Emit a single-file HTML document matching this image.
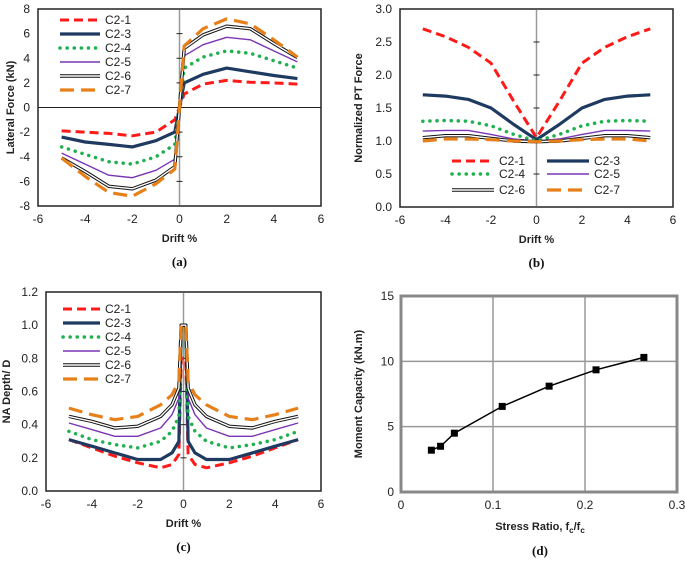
<!DOCTYPE html>
<html><head><meta charset="utf-8"><style>
body{margin:0;background:#fff;}
svg{display:block;font-family:"Liberation Sans",sans-serif;}
.tk{font-size:12px;fill:#222;}
.ttl{font-size:11px;font-weight:bold;fill:#222;}
.pl{font-family:"Liberation Serif",serif;font-size:13px;font-weight:bold;fill:#111;}
.lg{font-size:12px;fill:#222;}
</style></head><body>
<svg id="fig" width="685" height="564" viewBox="0 0 685 564"></svg>
<script>
const series = ["C2-1","C2-3","C2-4","C2-5","C2-6","C2-7"];
// Panel (a) lateral force
const xA = [-5,-4,-3,-2,-1,-0.2,0,0.2,1,2,3,4,5];
const a1 = [-1.9,-2.0,-2.1,-2.3,-2.0,-1.0,0,1.1,1.9,2.2,2.05,2.0,1.9];
const a3 = [-2.4,-2.8,-3.0,-3.2,-2.7,-2.0,0,2.0,2.7,3.2,2.9,2.6,2.35];
const a4 = [-3.2,-3.8,-4.4,-4.6,-4.0,-3.0,0,3.2,4.1,4.6,4.4,3.8,3.2];
const a5 = [-3.7,-4.6,-5.5,-5.7,-5.1,-4.2,0,4.2,5.1,5.7,5.5,4.6,3.7];
const a6 = [-4.1,-5.2,-6.4,-6.6,-5.9,-4.8,0,4.8,5.9,6.6,6.4,5.2,4.05];
const a7 = [-4.1,-5.6,-6.9,-7.2,-6.2,-5.0,0,5.0,6.4,7.2,6.8,5.5,4.1];
// Panel (b) normalized PT force
const xB = [-5,-4,-3,-2,-1,0,1,2,3,4,5];
const b1 = [2.7,2.58,2.42,2.18,1.6,1.05,1.6,2.18,2.42,2.58,2.7];
const b3 = [1.7,1.68,1.63,1.5,1.25,1.02,1.25,1.5,1.63,1.68,1.7];
const b4 = [1.3,1.31,1.3,1.23,1.1,1.0,1.1,1.23,1.3,1.31,1.3];
const b5 = [1.15,1.16,1.16,1.1,1.03,1.0,1.03,1.1,1.16,1.16,1.15];
const b6 = [1.05,1.08,1.08,1.04,1.0,0.99,1.0,1.04,1.08,1.08,1.05];
const b7 = [1.0,1.03,1.03,1.02,1.0,0.99,1.0,1.02,1.03,1.03,1.0];
// Panel (c) NA depth
const xC = [-5,-4,-3,-2,-1,-0.5,-0.2,-0.1,0.1,0.2,0.5,1,2,3,4,5];
const c1 = [.31,.26,.21,.17,.14,.16,.22,.8,.8,.22,.16,.14,.17,.21,.26,.31];
const c3 = [.31,.27,.23,.19,.19,.23,.3,1.0,1.0,.3,.23,.19,.19,.23,.27,.31];
const c4 = [.36,.31,.28,.26,.30,.36,.45,.97,.97,.45,.36,.30,.26,.28,.31,.36];
const c5 = [.41,.37,.33,.33,.38,.46,.56,1.0,1.0,.56,.46,.38,.33,.33,.37,.41];
const c6 = [.45,.42,.38,.39,.45,.52,.62,1.0,1.0,.62,.52,.45,.39,.38,.42,.45];
const c7 = [.50,.46,.43,.45,.52,.58,.66,1.0,1.0,.66,.58,.52,.45,.43,.46,.50];
// Panel (d) moment capacity
const xD = [0.033,0.043,0.058,0.110,0.161,0.212,0.264];
const yD = [3.2,3.5,4.5,6.55,8.1,9.35,10.3];
const driftTicks = [-6,-4,-2,0,2,4,6];
const aTicks = [-8,-6,-4,-2,0,2,4,6,8];
const bTicks = [0.0,0.5,1.0,1.5,2.0,2.5,3.0];
const cTicks = [0.0,0.2,0.4,0.6,0.8,1.0,1.2];
const dxTicks = [0,0.1,0.2,0.3];
const dyTicks = [0,5,10,15];

const NS="http://www.w3.org/2000/svg";
const svg=document.getElementById('fig');
function el(tag,attrs,parent,text){const e=document.createElementNS(NS,tag);for(const k in attrs)e.setAttribute(k,attrs[k]);if(text!==undefined)e.textContent=text;(parent||svg).appendChild(e);return e;}
const styles=[
 [{stroke:"#ff1a1a","stroke-width":3,"stroke-dasharray":"9,5"}],
 [{stroke:"#1f3a60","stroke-width":3.2}],
 [{stroke:"#1fb050","stroke-width":3.5,"stroke-dasharray":"0.1,7","stroke-linecap":"round"}],
 [{stroke:"#7a35b5","stroke-width":1.4}],
 [{stroke:"#111","stroke-width":3.4},{stroke:"#fff","stroke-width":1.4}],
 [{stroke:"#e8801a","stroke-width":3.2,"stroke-dasharray":"14,7"}]
];
function axes(name,x0,x1,y0,y1,xmin,xmax,ymin,ymax){
  const sx=v=>x0+(v-xmin)/(xmax-xmin)*(x1-x0);
  const sy=v=>y1-(v-ymin)/(ymax-ymin)*(y1-y0);
  return {sx,sy};
}
function panel(opts){
  const g=el('g',{});
  
  
  const {sx,sy}=axes(opts.name,opts.x0,opts.x1,opts.y0,opts.y1,opts.xmin,opts.xmax,opts.ymin,opts.ymax);
  el('rect',{x:opts.x0,y:opts.y0,width:opts.x1-opts.x0,height:opts.y1-opts.y0,fill:"#fff",stroke:"#222","stroke-width":1.5},g);
  // zero lines
  if(opts.zeroY) el('line',{x1:opts.x0,x2:opts.x1,y1:sy(0),y2:sy(0),stroke:"#222","stroke-width":1},g);
  el('line',{x1:sx(0),x2:sx(0),y1:opts.y0,y2:opts.y1,stroke:"#999","stroke-width":1.5},g);
  opts.yTicks.forEach(t=>{
    const tx=el('text',{x:opts.x0-8,y:sy(t)+4,"text-anchor":"end",class:"tk"},g,opts.yfmt?opts.yfmt(t):t);
    
    el('line',{x1:sx(0)-3,x2:sx(0)+3,y1:sy(t),y2:sy(t),stroke:"#222"},g);
  });
  driftTicks.forEach(t=>{
    const tx=el('text',{x:sx(t),y:opts.y1+17,"text-anchor":"middle",class:"tk"},g,t);
    
  });
  const xt=el('text',{x:(opts.x0+opts.x1)/2,y:opts.y1+36,"text-anchor":"middle",class:"ttl"},g,"Drift %");
  
  const cy=(opts.y0+opts.y1)/2;
  const yt=el('text',{x:opts.ytx,y:cy,"text-anchor":"middle",class:"ttl",transform:`rotate(-90 ${opts.ytx} ${cy})`},g,opts.ytitle);
  
  const pl=el('text',{x:(opts.x0+opts.x1)/2,y:opts.y1+60,"text-anchor":"middle",class:"pl"},g,opts.label);
  
  opts.data.forEach((ys,i)=>{
    const pts=opts.xs.map((x,j)=>sx(x).toFixed(1)+","+sy(ys[j]).toFixed(1)).join(" ");
    styles[i].forEach(s=>{
      const p=el('polyline',Object.assign({points:pts,fill:"none","stroke-linejoin":"round"},s),g);
      
      
    });
  });
  opts.legend.forEach((pos,i)=>{
    styles[i].forEach(s=>{
      const l=el('line',Object.assign({x1:pos[0],x2:pos[0]+opts.lw,y1:pos[1],y2:pos[1]},s),g);
      
    });
    const t=el('text',{x:pos[0]+opts.lw+5,y:pos[1]+4,class:"lg"},g,series[i]);
    
  });
}
panel({name:"lateral-force-chart",x0:38,x1:321,y0:9,y1:206,xmin:-6,xmax:6,ymin:-8,ymax:8,zeroY:true,
  yTicks:aTicks,ytx:14,ytitle:"Lateral Force (kN)",label:"(a)",xs:xA,data:[a1,a3,a4,a5,a6,a7],lw:40,
  legend:[[60,20],[60,34],[60,48],[60,62],[60,76],[60,90]]});
panel({name:"pt-force-chart",x0:400,x1:673,y0:9,y1:207,xmin:-6,xmax:6,ymin:0,ymax:3,
  yTicks:bTicks,yfmt:t=>t.toFixed(1),ytx:362,ytitle:"Normalized PT Force",label:"(b)",xs:xB,data:[b1,b3,b4,b5,b6,b7],lw:42,
  legend:[[452,161],[547,161],[452,174],[547,174],[452,190],[547,190]]});
panel({name:"na-depth-chart",x0:46,x1:321,y0:292,y1:491,xmin:-6,xmax:6,ymin:0,ymax:1.2,
  yTicks:cTicks,yfmt:t=>t.toFixed(1),ytx:10,ytitle:"NA Depth/ D",label:"(c)",xs:xC,data:[c1,c3,c4,c5,c6,c7],lw:37,
  legend:[[63,309],[63,323],[63,337],[63,351],[63,365],[63,379]]});
// Panel d
(function(){
  const x0=401,x1=677,y0=296,y1=492;
  const g=el('g',{});
  
  
  const sx=v=>x0+v/0.3*(x1-x0), sy=v=>y1-v/15*(y1-y0);
  el('rect',{x:x0,y:y0,width:x1-x0,height:y1-y0,fill:"#fff"},g);
  dxTicks.forEach(t=>{el('line',{x1:sx(t),x2:sx(t),y1:y0,y2:y1,stroke:"#999","stroke-width":1.5},g);
    const tx=el('text',{x:sx(t),y:y1+17,"text-anchor":"middle",class:"tk"},g,t);
    });
  dyTicks.forEach(t=>{el('line',{x1:x0,x2:x1,y1:sy(t),y2:sy(t),stroke:"#999","stroke-width":1.5},g);
    const tx=el('text',{x:x0-7,y:sy(t)+4,"text-anchor":"end",class:"tk"},g,t);
    });
  el('rect',{x:x0,y:y0,width:x1-x0,height:y1-y0,fill:"none",stroke:"#888","stroke-width":3},g);
  const pts=xD.map((x,i)=>sx(x).toFixed(1)+","+sy(yD[i]).toFixed(1)).join(" ");
  const pl=el('polyline',{points:pts,fill:"none",stroke:"#000","stroke-width":1.5},g);
  
  xD.forEach((x,i)=>{const m=el('rect',{x:sx(x)-3.5,y:sy(yD[i])-3.5,width:7,height:7,fill:"#000"},g);
    });
  const xt=el('text',{x:540,y:530,"text-anchor":"middle",class:"ttl"},g);
  
  xt.innerHTML='Stress Ratio, f<tspan font-size="8" dy="3">c</tspan><tspan dy="-3">/f</tspan><tspan font-size="8" dy="3">c</tspan>';
  const cy=(y0+y1)/2;
  const yt=el('text',{x:362,y:cy,"text-anchor":"middle",class:"ttl",transform:`rotate(-90 362 ${cy})`},g,"Moment Capacity  (kN.m)");
  
  const lb=el('text',{x:540,y:555,"text-anchor":"middle",class:"pl"},g,"(d)");
  
})();
</script>
</body></html>
